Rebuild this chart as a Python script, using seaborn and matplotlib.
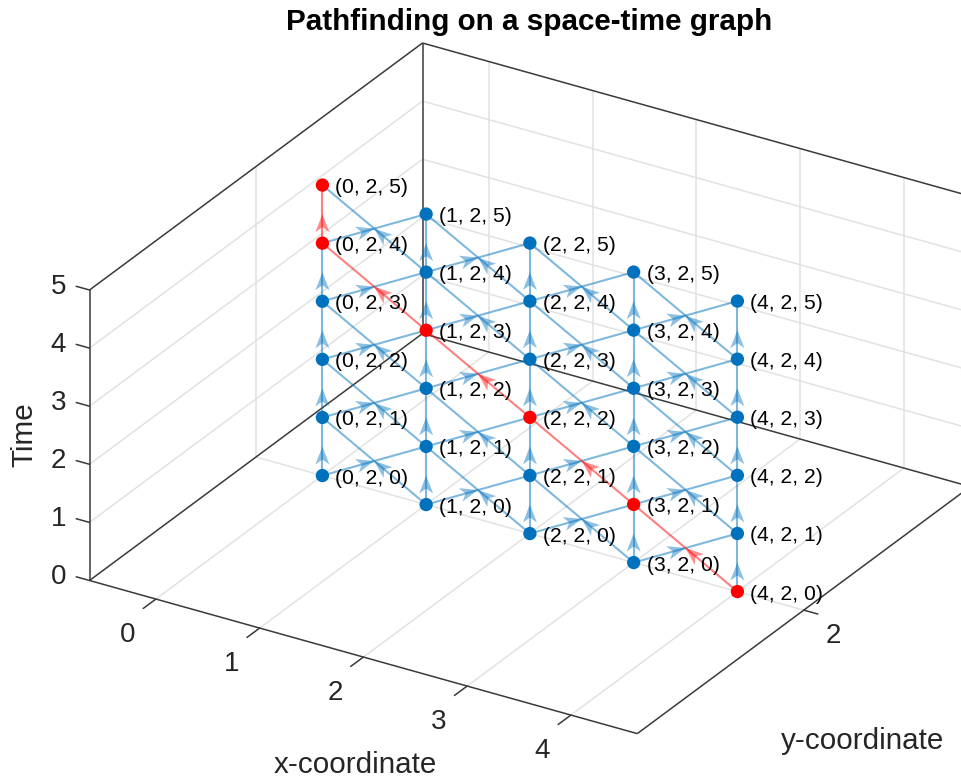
import numpy as np
import pandas as pd
import matplotlib
matplotlib.use("Agg")
import matplotlib.pyplot as plt
from matplotlib.patches import Polygon
import seaborn as sns

# ---- data ----
x_nodes = [0, 1, 2, 3, 4]
y_node = 2
t_nodes = [0, 1, 2, 3, 4, 5]
path = [(4, 0), (3, 1), (2, 2), (1, 3), (0, 4), (0, 5)]   # (x, t) along y = 2
x_ticks = [0, 1, 2, 3, 4]
y_ticks = [2]
t_ticks = [0, 1, 2, 3, 4, 5]
x_lim = (-0.64, 4.64)
y_lim = (1.5, 2.5)
t_lim = (0, 5)
title = "Pathfinding on a space-time graph"
x_label = "x-coordinate"
y_label = "y-coordinate"
t_label = "Time"

# ---- orthographic camera (figure pixels per data unit) ----
corner = np.array([89.5, 580.5])
ex = np.array([103.75, 29.0])
ey = np.array([333.0, -247.0]) / (y_lim[1] - y_lim[0])
et = np.array([0.0, -58.1])


def proj(x, y, t):
    return corner + (x - x_lim[0]) * ex + (y - y_lim[0]) * ey + (t - t_lim[0]) * et


sns.set_theme(style="white")
plt.rcParams["font.family"] = ["Liberation Sans", "DejaVu Sans"]

fig = plt.figure(figsize=(9.61, 7.80), dpi=100, facecolor="white")
ax = fig.add_axes([0, 0, 1, 1])
ax.set_xlim(0, 961)
ax.set_ylim(780, 0)
ax.axis("off")

AXC = "#3a3a3a"
GRID = "#e2e2e2"
TXT = "#262626"


def seg(a, b, **kw):
    pa, pb = proj(*a), proj(*b)
    ax.plot([pa[0], pb[0]], [pa[1], pb[1]], solid_capstyle="butt", **kw)


x0, x1 = x_lim
y0, y1 = y_lim
t0, t1 = t_lim

# grid
g = dict(color=GRID, lw=1.1, zorder=1)
for xv in x_ticks:
    seg((xv, y0, t0), (xv, y1, t0), **g)
    seg((xv, y1, t0), (xv, y1, t1), **g)
for yv in y_ticks:
    seg((x0, yv, t0), (x1, yv, t0), **g)
    seg((x0, yv, t0), (x0, yv, t1), **g)
for tv in t_ticks[1:-1]:
    seg((x0, y0, tv), (x0, y1, tv), **g)
    seg((x0, y1, tv), (x1, y1, tv), **g)

# box
b = dict(color=AXC, lw=1.1, zorder=2)
for p, q in [((x0, y0, t0), (x1, y0, t0)), ((x1, y0, t0), (x1, y1, t0)),
             ((x0, y0, t0), (x0, y1, t0)), ((x0, y1, t0), (x1, y1, t0)),
             ((x0, y0, t0), (x0, y0, t1)), ((x0, y1, t0), (x0, y1, t1)),
             ((x0, y0, t1), (x0, y1, t1)), ((x0, y1, t1), (x1, y1, t1))]:
    seg(p, q, **b)

# ticks and labels
tick_fs = 20
for xv in x_ticks:
    p = proj(xv, y0, t0)
    ax.plot([p[0], p[0] - 12.7], [p[1], p[1] + 9.4], color=AXC, lw=1.1, zorder=2)
    ax.text(p[0] - 28.5, p[1] + 36, str(xv), ha="center", va="center", fontsize=tick_fs, color=TXT)
for yv in y_ticks:
    p = proj(x1, yv, t0)
    ax.plot([p[0], p[0] + 14], [p[1], p[1] + 3.9], color=AXC, lw=1.1, zorder=2)
    ax.text(p[0] + 30, p[1] + 26, str(yv), ha="center", va="center", fontsize=tick_fs, color=TXT)
for tv in t_ticks:
    p = proj(x0, y0, tv)
    ax.plot([p[0], p[0] - 13.3], [p[1], p[1] - 3.7], color=AXC, lw=1.1, zorder=2)
    ax.text(p[0] - 23.5, p[1] - 3, str(tv), ha="right", va="center", fontsize=tick_fs, color=TXT)

# edges: every node leads to itself and its neighbours one time step later
path_edges = set(zip(path[:-1], path[1:]))
rows = []
eid = 0
arrows = []
for t in t_nodes[:-1]:
    for xv in x_nodes:
        for dx in (-1, 0, 1):
            xn = xv + dx
            if xn not in x_nodes:
                continue
            on = ((xv, t), (xn, t + 1)) in path_edges
            pa, pb = proj(xv, y_node, t), proj(xn, y_node, t + 1)
            rows.append(dict(edge=eid, sx=pa[0], sy=pa[1], kind="path" if on else "graph"))
            rows.append(dict(edge=eid, sx=pb[0], sy=pb[1], kind="path" if on else "graph"))
            arrows.append((pa, pb, on))
            eid += 1
edges = pd.DataFrame(rows)
BLUE = "#0072BD"
RED = "#FF0000"
sns.lineplot(data=edges, x="sx", y="sy", hue="kind", units="edge", estimator=None, sort=False,
             palette={"graph": BLUE, "path": RED}, hue_order=["graph", "path"],
             lw=1.5, alpha=0.5, legend=False, ax=ax, zorder=3)
ax.axis("off")

# arrow heads at the edge midpoints
L, W, N = 18.0, 7.0, 13.0
for pa, pb, on in arrows:
    tip = (pa + pb) / 2
    d = (pb - pa) / np.linalg.norm(pb - pa)
    n = np.array([-d[1], d[0]])
    poly = [tip, tip - L * d + W * n, tip - N * d, tip - L * d - W * n]
    ax.add_patch(Polygon(poly, closed=True, facecolor=RED if on else BLUE, edgecolor="none",
                         alpha=0.45, zorder=4))

# nodes
nodes = pd.DataFrame([
    dict(x=xv, y=y_node, t=t, kind="path" if (xv, t) in path else "graph")
    for t in t_nodes for xv in x_nodes
])
sxy = np.array([proj(r.x, r.y, r.t) for r in nodes.itertuples()])
nodes["sx"], nodes["sy"] = sxy[:, 0], sxy[:, 1]
sns.scatterplot(data=nodes, x="sx", y="sy", hue="kind", palette={"graph": BLUE, "path": RED},
                s=92, linewidth=0, legend=False, ax=ax, zorder=5)
ax.axis("off")
ax.set_xlim(0, 961)
ax.set_ylim(780, 0)

for r in nodes.itertuples():
    ax.text(r.sx + 13, r.sy + 2.5, f"({r.x}, {r.y}, {r.t})", ha="left", va="center",
            fontsize=15.2, color="black", zorder=6)

ax.text(529, 21.5, title, ha="center", va="center", fontsize=21.3, fontweight="bold", color="black")
ax.text(355, 765, x_label, ha="center", va="center", fontsize=21.3, color=TXT)
ax.text(863, 741, y_label, ha="center", va="center", fontsize=21.3, color=TXT)
ax.text(24, 435, t_label, ha="center", va="center", rotation=90, fontsize=21.3, color=TXT)

fig.savefig("out.png", dpi=100)
